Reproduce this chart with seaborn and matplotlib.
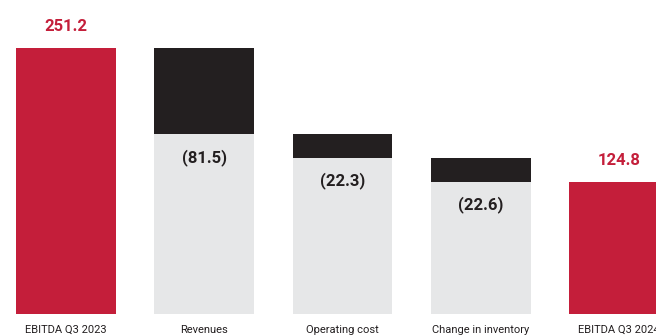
import matplotlib
matplotlib.use("Agg")
import matplotlib.pyplot as plt
import seaborn as sns
import pandas as pd
import numpy as np

categories = ["EBITDA Q3 2023", "Revenues", "Operating cost", "Change in inventory", "EBITDA Q3 2024"]
start_value = 251.2
deltas = [-81.5, -22.3, -22.6]
end_value = 124.8
labels = ["251.2", "(81.5)", "(22.3)", "(22.6)", "124.8"]

RED = "#C41E3A"
DARK = "#231F20"
LIGHT = "#E6E7E8"

# running totals derived from data
running = [start_value]
for d in deltas:
    running.append(running[-1] + d)
tops = [start_value] + running[:-1] + [end_value]
bases = [start_value] + running[1:] + [end_value]

sns.set_style("white")
plt.rcParams["font.family"] = ["Roboto", "DejaVu Sans"]

fig = plt.figure(figsize=(6.56, 3.36), dpi=100)
ax = fig.add_axes([0, 22 / 336, 1, 314 / 336])

df_top = pd.DataFrame({"cat": categories, "val": tops})
pal_top = [RED, DARK, DARK, DARK, RED]
sns.barplot(data=df_top, x="cat", y="val", hue="cat", order=categories,
            palette=pal_top, legend=False, width=0.7233, ax=ax,
            saturation=1, edgecolor="none", linewidth=0)

df_low = pd.DataFrame({"cat": categories[1:4], "val": bases[1:4]})
sns.barplot(data=df_low, x="cat", y="val", order=categories, color=LIGHT,
            width=0.7233, ax=ax, saturation=1, edgecolor="none", linewidth=0)

px = 1.06  # pixels per data unit
for i, cat in enumerate(categories):
    if i in (0, 4):
        ax.text(i, tops[i] + 21 / px, labels[i], ha="center", va="center",
                color=RED, fontsize=12, fontweight="bold")
    else:
        ax.text(i, bases[i] - 23 / px, labels[i], ha="center", va="center",
                color=DARK, fontsize=12, fontweight="bold")

ax.set_xlim(-66 / 138.25, (656 - 66) / 138.25)
ax.set_ylim(0, 314 / px)
ax.set_xlabel("")
ax.set_ylabel("")
ax.set_yticks([])
ax.tick_params(axis="x", length=0, pad=8, labelsize=8, labelcolor=DARK)
for s in ax.spines.values():
    s.set_visible(False)

fig.savefig("out.png", dpi=100)
